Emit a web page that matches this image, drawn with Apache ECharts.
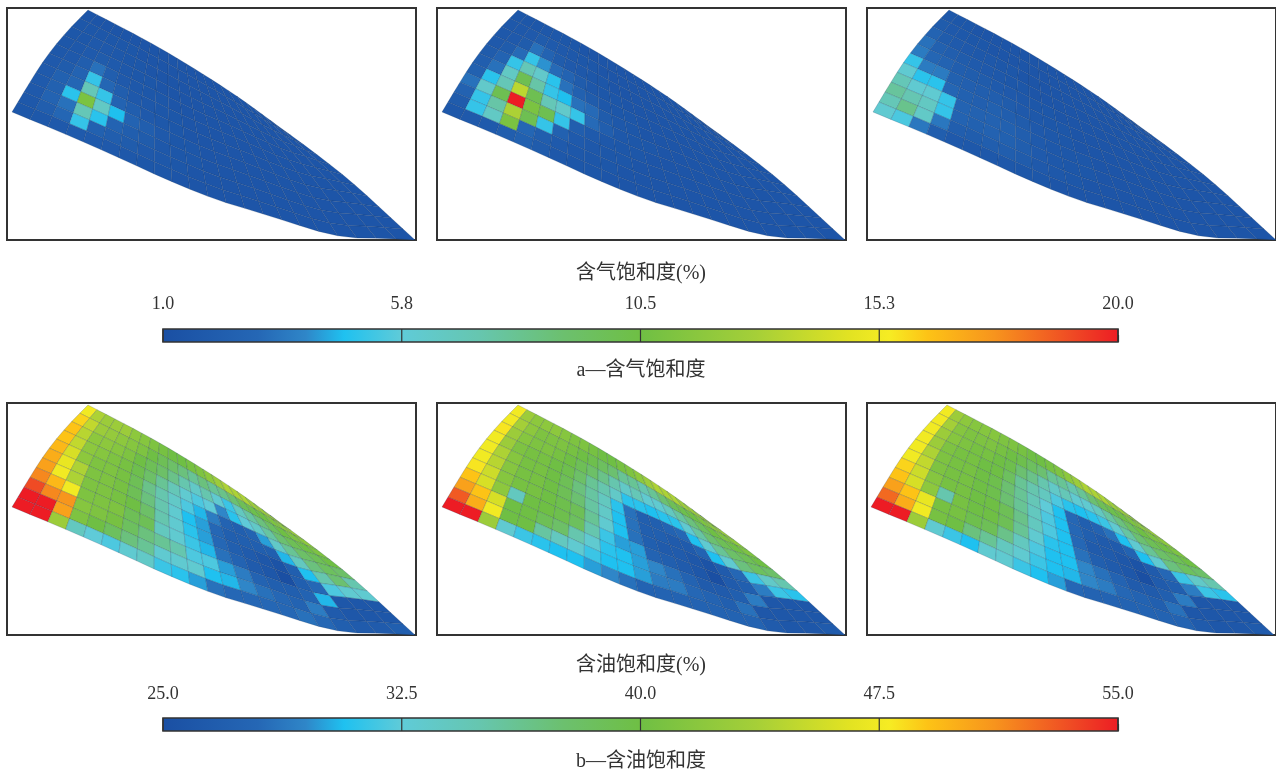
<!DOCTYPE html><html><head><meta charset="utf-8"><style>html,body{margin:0;background:#fff}#c{width:1276px;height:771px}</style>
<script src="https://cdn.jsdelivr.net/npm/echarts@6/dist/echarts.min.js"></script></head><body><div id="c"></div><script>
const gasTicks=['1.0','5.8','10.5','15.3','20.0'];
const oilTicks=['25.0','32.5','40.0','47.5','55.0'];
const gasRange=[1,20], oilRange=[25,55];
const gasLeft=[
[1.5,1.5,1.5,1.5,1.5,1.5,1.5,1.5,1.5,1.5,1.5,1.5,1.5,1.5,1.5,1.5,1.5,1.5,1.5,1.5,1.5,1.5],
[1.6,1.6,1.6,1.6,1.6,1.6,1.5,1.5,1.5,1.5,1.5,1.5,1.5,1.5,1.5,1.5,1.5,1.5,1.5,1.5,1.5,1.5],
[1.6,1.6,1.8,1.8,1.7,1.6,1.6,1.5,1.5,1.5,1.5,1.5,1.5,1.5,1.5,1.5,1.5,1.5,1.5,1.5,1.5,1.5],
[1.6,1.7,1.9,2.0,1.9,1.7,1.6,1.6,1.5,1.5,1.5,1.5,1.5,1.5,1.5,1.5,1.5,1.5,1.5,1.5,1.5,1.5],
[1.7,1.8,2.2,3.2,2.2,1.8,1.7,1.6,1.6,1.5,1.5,1.5,1.5,1.5,1.5,1.5,1.5,1.5,1.5,1.5,1.5,1.5],
[1.8,2.0,2.6,5.0,2.8,2.2,1.8,1.7,1.6,1.6,1.5,1.5,1.5,1.5,1.5,1.5,1.5,1.5,1.5,1.5,1.5,1.5],
[1.9,2.4,2.8,7.0,5.0,2.6,2.2,1.8,1.7,1.6,1.5,1.5,1.5,1.5,1.5,1.5,1.5,1.5,1.5,1.5,1.5,1.5],
[1.9,2.4,4.8,11,6.5,4.6,2.6,2.2,1.8,1.6,1.6,1.5,1.5,1.5,1.5,1.5,1.5,1.5,1.5,1.5,1.5,1.5],
[1.8,2.6,3.2,7.0,4.8,2.6,2.2,2.0,1.7,1.6,1.6,1.5,1.5,1.5,1.5,1.5,1.5,1.5,1.5,1.5,1.5,1.5],
[1.7,2.2,2.8,5.0,2.4,2.2,2.0,1.8,1.7,1.6,1.5,1.5,1.5,1.5,1.5,1.5,1.5,1.5,1.5,1.5,1.5,1.5],
[1.6,1.7,1.8,1.9,1.9,1.8,1.7,1.6,1.6,1.5,1.5,1.5,1.5,1.5,1.5,1.5,1.5,1.5,1.5,1.5,1.5,1.5]];
const gasMid=[
[1.6,1.6,1.6,1.7,1.7,1.6,1.6,1.5,1.5,1.5,1.5,1.5,1.5,1.5,1.5,1.5,1.5,1.5,1.5,1.5,1.5,1.5],
[1.7,1.7,1.8,2.0,1.9,1.8,1.7,1.6,1.6,1.5,1.5,1.5,1.5,1.5,1.5,1.5,1.5,1.5,1.5,1.5,1.5,1.5],
[1.7,1.8,2.0,3.2,2.6,2.0,1.8,1.7,1.6,1.6,1.5,1.5,1.5,1.5,1.5,1.5,1.5,1.5,1.5,1.5,1.5,1.5],
[1.8,2.0,3.0,5.0,4.0,3.0,2.6,2.0,1.7,1.6,1.6,1.5,1.5,1.5,1.5,1.5,1.5,1.5,1.5,1.5,1.5,1.5],
[2.0,2.6,5.0,7.0,6.3,4.8,3.2,2.4,2.0,1.7,1.6,1.6,1.5,1.5,1.5,1.5,1.5,1.5,1.5,1.5,1.5,1.5],
[2.2,3.2,6.5,10,7.5,5.0,4.6,3.2,3.0,2.0,1.7,1.6,1.5,1.5,1.5,1.5,1.5,1.5,1.5,1.5,1.5,1.5],
[2.4,4.8,7.0,13.5,10,7.0,6.3,5.0,3.0,2.2,1.7,1.6,1.6,1.5,1.5,1.5,1.5,1.5,1.5,1.5,1.5,1.5],
[3.2,6.3,10,20,11,10,5.0,2.2,1.9,1.7,1.6,1.6,1.5,1.5,1.5,1.5,1.5,1.5,1.5,1.5,1.5,1.5],
[2.5,5.0,7.5,13,10,5.0,2.4,1.9,1.7,1.6,1.6,1.5,1.5,1.5,1.5,1.5,1.5,1.5,1.5,1.5,1.5,1.5],
[2.0,5.0,6.5,11,2.8,2.2,1.9,1.7,1.6,1.6,1.5,1.5,1.5,1.5,1.5,1.5,1.5,1.5,1.5,1.5,1.5,1.5],
[1.7,1.8,1.9,2.2,2.4,2.0,1.7,1.6,1.6,1.5,1.5,1.5,1.5,1.5,1.5,1.5,1.5,1.5,1.5,1.5,1.5,1.5]];
const gasRight=[
[1.7,1.6,1.6,1.5,1.5,1.5,1.5,1.5,1.5,1.5,1.5,1.5,1.5,1.5,1.5,1.5,1.5,1.5,1.5,1.5,1.5,1.5],
[2.0,1.8,1.7,1.6,1.6,1.5,1.5,1.5,1.5,1.5,1.5,1.5,1.5,1.5,1.5,1.5,1.5,1.5,1.5,1.5,1.5,1.5],
[2.6,2.0,1.9,1.8,1.7,1.7,1.6,1.6,1.5,1.5,1.5,1.5,1.5,1.5,1.5,1.5,1.5,1.5,1.5,1.5,1.5,1.5],
[3.2,2.4,2.2,2.0,1.9,1.8,1.7,1.6,1.6,1.5,1.5,1.5,1.5,1.5,1.5,1.5,1.5,1.5,1.5,1.5,1.5,1.5],
[3.5,2.8,2.6,2.2,2.1,2.0,1.9,1.8,1.7,1.6,1.6,1.5,1.5,1.5,1.5,1.5,1.5,1.5,1.5,1.5,1.5,1.5],
[5.0,3.5,3.5,2.4,2.3,2.2,2.2,2.0,1.8,1.7,1.6,1.6,1.5,1.5,1.5,1.5,1.5,1.5,1.5,1.5,1.5,1.5],
[6.0,4.8,4.8,2.8,2.4,2.3,2.4,2.2,2.0,1.8,1.7,1.6,1.5,1.5,1.5,1.5,1.5,1.5,1.5,1.5,1.5,1.5],
[7.0,6.0,6.0,5.0,2.6,2.5,2.5,2.4,2.2,1.9,1.7,1.6,1.6,1.5,1.5,1.5,1.5,1.5,1.5,1.5,1.5,1.5],
[7.8,7.2,6.6,5.0,2.6,2.4,2.5,2.4,2.2,1.9,1.7,1.6,1.6,1.5,1.5,1.5,1.5,1.5,1.5,1.5,1.5,1.5],
[7.0,8.2,6.4,3.4,2.2,2.1,2.2,2.2,2.0,1.8,1.7,1.6,1.5,1.5,1.5,1.5,1.5,1.5,1.5,1.5,1.5,1.5],
[6.0,5.4,3.4,2.2,1.8,1.7,1.7,1.7,1.6,1.6,1.5,1.5,1.5,1.5,1.5,1.5,1.5,1.5,1.5,1.5,1.5,1.5]];
const oilLeft=[
[47.5,44,43,43,43,42,41.5,41,40.5,40,40,40.5,41,42,43,44,44,44,43,43,43,43],
[48.5,45,43,42.5,42,41.5,41,40,39,38,37,36,37,36,36.5,37.5,39,39.5,40,41,42,43],
[49,44.5,42,42,41.5,41,40,39,38,36.5,35,33.5,35,33,31.5,34,35.5,37,38.5,40,41,42],
[49,45,42,41.5,41,40.5,39.5,38,36,34.5,33,32,32.5,29.5,31,32.5,33.5,35.5,37.5,39,40,41],
[49.5,46,42,41,41,40.5,39,36.5,35,33.5,32,30.5,29,27.5,27,27.5,30,33.5,36,38,39,40],
[50,47,44,41,41,40.5,39,37,35,33,30.7,30,28,27,27,27,27,30.5,34,37,38.5,38],
[50.5,47.5,44,41,41,40.5,40,38,35,33,31,30,28,27,26.5,26,25.5,27,30.7,35,37.5,35],
[51.5,49.5,47.5,41,41,41,39,39,34,33,31.5,30.5,28.5,27.5,26.5,26,25,27,28,32,33,33],
[53.5,51.5,51,41.5,41,40.5,38.5,37,36,35,32,32,30,29,27.5,27,27,27.5,30.5,26,26,26],
[55,55,50.5,41,40,38.5,37,36,33,33,33,30.7,30.5,29.5,28.5,28,27.5,29,26.5,26,26,26],
[55,55,43,34,32.5,32,33,33.5,31.5,31,30,28.5,28,28,28,28,28.5,28,27,26.5,26.5,27]];
const oilMid=[
[47.5,43,42,42,42,41.5,41,41,40.5,40,40,40.5,41,42,43,44,44,44,43,43,43,43],
[47.5,43.5,42,41,41,41,40.5,40,39.5,38.5,37.5,36,36,35,36,37.5,39,39.5,40,41,42,43],
[48,43,41.5,41,41,40.5,40,39,38,36.5,35,33.5,34.5,33,33,34,35.5,37,38.5,40,41,42],
[47.5,43,41,40.5,40.5,40,39.5,38,36,35,33.5,31,31,30.7,31,31,33,35.5,37.5,39,40,41],
[47.5,44,41.5,40.5,40.5,40,39,37,35.5,34,31,28.5,27,27,27.5,28,30.7,33,36,38,39,40],
[47.5,44.5,41.5,40.5,40.5,40,39,37.5,35.5,33.5,30.7,28.5,27,27,26.5,26.5,27.5,30.7,33,37,38.5,38],
[48,45.5,41.5,40.5,40.5,40,39.5,39,36,33,30.7,28.5,27,26.5,26.5,26,25.5,26.5,28,31.5,33.5,35],
[49,46,42,34,40,40,39.5,38.5,35,31.5,30,30,27.5,27,26.5,26,25,26.5,27,29,31.5,31],
[50.5,49,46,40,40,39,38,35,33,31,30.7,30,29.5,28.5,27.5,26.5,26.5,27,29,26,26,26],
[53,50,47.5,40,40,35.5,34,33,31.5,30.7,30.7,30,29,29,28,27.5,27,28.5,26,26,26,26],
[55,55,43,33,31.5,31,30.7,30.7,30,29.5,28.5,27.5,27.5,27.5,27.5,27.5,27.5,27.5,26.5,26,26,26.5]];
const oilRight=[
[47.5,43,42,41.5,41.5,41.5,41,41,40.5,40,40,40.5,41,42,43,44,44,44,43,43,43,43],
[47.5,43.5,41.5,41,41,41,40.5,40,39.5,38.5,37.5,36,36,35,36,37.5,39,39.5,40,41,42,43],
[47.5,43,41.5,41,40.5,40.5,40,39.5,37.5,36.5,35,33.5,34.5,33,33,34,35.5,37,38.5,40,41,42],
[47.5,43,41,40.5,40.5,40,40,38.5,36,35,34,32,31,30.7,31,31.5,33,35.5,37.5,39,40,41],
[47.5,44,41,40.5,40.5,40,39.5,37.5,36,34.5,32.5,30.7,28,27,27.5,28.5,30.7,33,36,38,39,40],
[47.5,45,41,40.5,40.5,40,39.5,37.5,36,34,32,30.7,28,27,26.5,26.5,27.5,30.7,33,37,38.5,38],
[48.5,45.5,41.5,40.5,40.5,40,40,39,36.5,34,32,30.7,28,26.5,26.5,26,25.5,26.5,28,31.5,33.5,35],
[49,46,42,35,40.5,40,40,39,36,33,31,30.7,28.5,27,26.5,26,25,26.5,27,29,31.5,31],
[50.5,49,47,40.5,40.5,39.5,39,36.5,34,32,30.7,30.7,29.5,28.5,27.5,26.5,26.5,27,29,26,26,26],
[52.5,50,47.5,40.5,40,37,36,34,33,31.5,30.7,30.5,29.5,29,28,27.5,27,28.5,26,26,26,26],
[55,55,43,33,31.5,30.7,33,33,31.5,30.7,30,28,27.5,27.5,27.5,27.5,27.5,27.5,26.5,26,26,26.5]];

function chaikin(a,n){for(let r=0;r<n;r++){const o=[a[0]];for(let i=0;i<a.length-1;i++){const p=a[i],q=a[i+1];if(i>0)o.push([.75*p[0]+.25*q[0],.75*p[1]+.25*q[1]]);if(i<a.length-2)o.push([.25*p[0]+.75*q[0],.25*p[1]+.75*q[1]])}o.push(a[a.length-1]);a=o}return a}
const leftE=chaikin([[88,10],[66,32],[42,62],[12,112]],3);
const topE=chaikin([[88,10],[150,42],[200,72],[240,98],[278,126]],3);
const rightE=chaikin([[278,126],[307,147],[350,180],[390,217],[415,240]],3);
const botE=chaikin([[12,112],[87,143],[200,195],[267,215],[338,238],[380,238],[415,240]],2);
function pl(a,t){let L=[0];for(let i=1;i<a.length;i++)L.push(L[i-1]+Math.hypot(a[i][0]-a[i-1][0],a[i][1]-a[i-1][1]));const s=t*L[L.length-1];for(let i=1;i<a.length;i++){if(s<=L[i]){const k=(s-L[i-1])/(L[i]-L[i-1]);return [a[i-1][0]+k*(a[i][0]-a[i-1][0]),a[i-1][1]+k*(a[i][1]-a[i-1][1])]}}return a[a.length-1]}
function S(u,v){const T=pl(topE,u),B=pl(botE,u),Lf=pl(leftE,v),R=pl(rightE,v);const c00=topE[0],c10=topE[topE.length-1],c01=botE[0],c11=botE[botE.length-1];return [0,1].map(k=>(1-v)*T[k]+v*B[k]+(1-u)*Lf[k]+u*R[k]-((1-u)*(1-v)*c00[k]+u*(1-v)*c10[k]+(1-u)*v*c01[k]+u*v*c11[k]))}
const stops=[[0,'#1a4fa3'],[.1,'#2567b5'],[.15,'#2f86c8'],[.19,'#1fc1f0'],[.25,'#5fcbd8'],[.33,'#66c6b0'],[.42,'#6cc06e'],[.5,'#6fbf44'],[.62,'#a5cf38'],[.72,'#e3e322'],[.76,'#f6ec23'],[.8,'#fdc316'],[.87,'#f7941d'],[.95,'#ef4b24'],[1,'#ed1c24']];
function colorAt(f){f=Math.max(0,Math.min(1,f));for(let k=1;k<stops.length;k++){if(f<=stops[k][0]){const a=stops[k-1],b=stops[k];return echarts.color.lerp((f-a[0])/(b[0]-a[0]),[a[1],b[1]])}}return stops[stops.length-1][1]}
const COLS=22,ROWS=11;
const panels=[
 {m:gasLeft,r:gasRange,x:7,y:8,dx:0},{m:gasMid,r:gasRange,x:437,y:8,dx:0},{m:gasRight,r:gasRange,x:867,y:8,dx:1},
 {m:oilLeft,r:oilRange,x:7,y:403,dx:0},{m:oilMid,r:oilRange,x:437,y:403,dx:0},{m:oilRight,r:oilRange,x:867,y:403,dx:-1}];
const grid=[],xAxis=[],yAxis=[],series=[];
panels.forEach((p,n)=>{
 grid.push({left:p.x,top:p.y,width:409,height:232,show:true,borderColor:'#333',borderWidth:2,backgroundColor:'#fff'});
 xAxis.push({gridIndex:n,type:'value',min:7-p.dx,max:416-p.dx,show:false});
 yAxis.push({gridIndex:n,type:'value',min:8,max:240,inverse:true,show:false});
 const d=[];p.m.forEach((row,j)=>row.forEach((v,i)=>d.push([i,j,v])));
 series.push({type:'custom',xAxisIndex:n,yAxisIndex:n,silent:true,data:d,clip:false,renderItem:(ps,api)=>{
  const i=api.value(0),j=api.value(1),v=api.value(2);
  const c=[[i,j],[i+1,j],[i+1,j+1],[i,j+1]].map(q=>api.coord(S(q[0]/COLS,q[1]/ROWS)));
  return {type:'polygon',shape:{points:c},style:{fill:colorAt((v-p.r[0])/(p.r[1]-p.r[0])),stroke:'rgba(15,45,80,0.27)',lineWidth:.7}}}});
});
[[gasTicks,329,16],[oilTicks,718,15]].forEach((b,k)=>{
 const n=grid.length,ticks=b[0];
 grid.push({left:163,top:b[1],width:955,height:13});
 xAxis.push({gridIndex:n,type:'value',min:0,max:ticks.length-1,interval:1,position:'top',axisLine:{show:false},splitLine:{show:false},
  axisTick:{show:true,length:7,lineStyle:{color:'#333',width:1.2}},
  axisLabel:{show:true,margin:b[2],fontFamily:'Liberation Serif',fontSize:18,color:'#333',formatter:v=>ticks[v],hideOverlap:false,showMinLabel:true,showMaxLabel:true}});
 yAxis.push({gridIndex:n,type:'value',min:0,max:1,show:false});
 series.push({type:'custom',xAxisIndex:n,yAxisIndex:n,silent:true,clip:false,data:ticks.map((t,i)=>[i]),renderItem:(ps,api)=>{
  const i=api.value(0),last=ticks.length-1;const a=api.coord([0,1]),z=api.coord([last,0]);const x=api.coord([i,0])[0];
  const kids=[{type:'line',shape:{x1:x,y1:a[1],x2:x,y2:z[1]},style:{stroke:'#333',lineWidth:1.2},z2:3}];
  if(i===0)kids.unshift({type:'rect',shape:{x:a[0],y:a[1],width:z[0]-a[0],height:z[1]-a[1]},style:{stroke:'#333',lineWidth:1.6,fill:{type:'linear',x:0,y:0,x2:1,y2:0,colorStops:stops.map(s=>({offset:s[0],color:s[1]}))}},z2:1});
  return {type:'group',children:kids}}});
});
const text=(t,top)=>({text:t,left:636,top,textAlign:'center',textStyle:{fontFamily:'Liberation Serif, Noto Sans CJK SC',fontWeight:'normal',fontSize:20,color:'#333'}});
const ch=echarts.init(document.getElementById('c'));
ch.setOption({animation:false,title:[text('含气饱和度(%)',259),text('a—含气饱和度',356),text('含油饱和度(%)',651),text('b—含油饱和度',747)],grid,xAxis,yAxis,series});
</script></body></html>
